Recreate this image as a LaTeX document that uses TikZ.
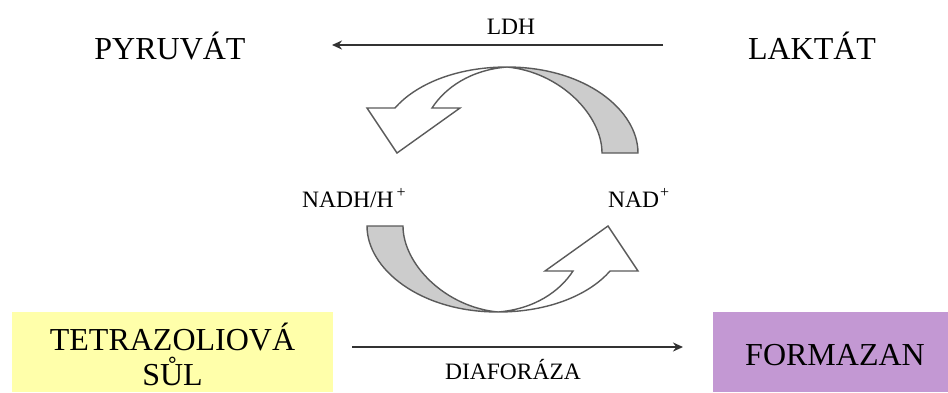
\documentclass[tikz,border=0pt]{standalone}
\usepackage{fontspec}
\setmainfont{Liberation Serif}
\usetikzlibrary{arrows.meta}
\definecolor{strokegray}{RGB}{90,90,90}
\definecolor{bandgray}{RGB}{204,204,204}
\definecolor{boxyellow}{RGB}{255,255,170}
\definecolor{boxpurple}{RGB}{195,152,211}
\definecolor{linegray}{RGB}{50,50,50}
\begin{document}
\begin{tikzpicture}[x=1pt,y=-1pt,
  bigtext/.style={font=\fontsize{32}{35}\selectfont, inner sep=0pt},
  smalltext/.style={font=\fontsize{23.5}{26}\selectfont, inner sep=0pt},
  reaction/.style={draw=linegray, line width=1.8pt, -{Stealth[length=10pt,width=9pt]}},
  band/.style={draw=strokegray, line width=1.4pt, line join=miter, fill=bandgray},
  curvedarrow/.style={draw=strokegray, line width=1.4pt, line join=miter, fill=white}]
\useasboundingbox (0,0) rectangle (948,392);
\fill[white] (0,0) rectangle (948,392);
% top labels
\node[bigtext, anchor=base] (pyr) at (170,59) {PYRUVÁT};
\node[bigtext, anchor=base] (lak) at (812,59) {LAKTÁT};
\node[smalltext, anchor=base] (ldh) at (511,34) {LDH};
\coordinate (topstart) at (663,45);
\coordinate (topend) at (332,45);
\draw[reaction] (topstart) -- (topend);
% cofactors
\node[smalltext, anchor=base west] (nadh) at (302,207) {NADH/H\kern3pt\raisebox{10pt}{\fontsize{16}{16}\selectfont +}};
\node[smalltext, anchor=base west] (nad) at (608,207) {NAD\kern1pt\raisebox{10pt}{\fontsize{16}{16}\selectfont +}};
% curved arrows (top)
\newcommand{\cyclehalf}{%
  \path[band] (507,67) .. controls (585,67) and (638,110) .. (638,153)
    -- (602,153) .. controls (602,115) and (560,72) .. (507,67) -- cycle;
  \path[curvedarrow] (507,67) .. controls (455,67) and (415,85) .. (395,108)
    -- (367,108) -- (397,153) -- (460,108) -- (432,108)
    .. controls (445,88) and (470,70) .. (507,67) -- cycle;
}
\cyclehalf
\begin{scope}[rotate around={180:(502.5,189.5)}]
\cyclehalf
\end{scope}
% bottom boxes
\node[fill=boxyellow, minimum width=321pt, minimum height=80pt, inner sep=0pt, anchor=north west] (tsbox) at (12,312) {};
\node[bigtext, anchor=base] (ts1) at (172.5,350) {TETRAZOLIOVÁ};
\node[bigtext, anchor=base] (ts2) at (172.5,385) {SŮL};
\node[fill=boxpurple, minimum width=235pt, minimum height=80pt, inner sep=0pt, anchor=north west] (fbox) at (713,312) {};
\node[bigtext, anchor=base] (form) at (835,365) {FORMAZAN};
\coordinate (botstart) at (352,347);
\coordinate (botend) at (683,347);
\draw[reaction] (botstart) -- (botend);
\node[smalltext, anchor=base] (dia) at (513,379) {DIAFORÁZA};
\end{tikzpicture}
\end{document}
